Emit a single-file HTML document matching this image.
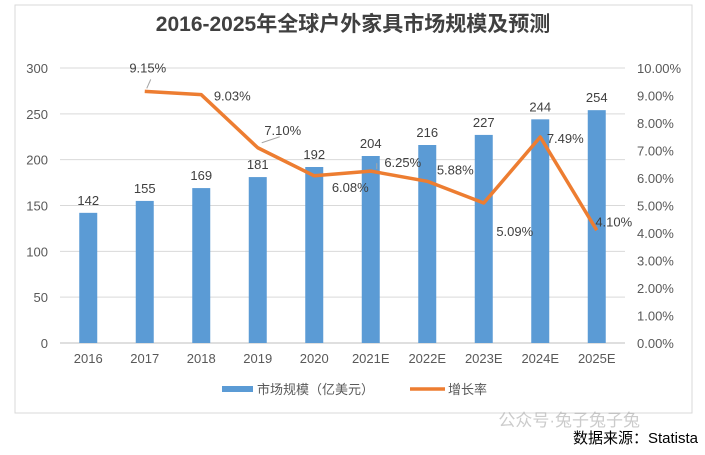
<!DOCTYPE html>
<html><head><meta charset="utf-8"><style>
body{margin:0;background:#fff;width:705px;height:450px;overflow:hidden;font-family:"Liberation Sans","Noto Sans CJK SC",sans-serif}
svg text{font-family:"Liberation Sans","Noto Sans CJK SC",sans-serif}
</style></head><body>
<svg id="c" width="705" height="450">
<rect x="15" y="5" width="677" height="408" fill="#fff" stroke="#d9d9d9"/>
<text x="353" y="31" text-anchor="middle" font-size="21" font-weight="bold" fill="#404040">2016-2025年全球户外家具市场规模及预测</text>
<g id="grid"></g><g id="bars"></g><g id="line"></g><g id="labels"></g>
<g>
<rect x="222" y="386" width="31" height="6" fill="#5b9bd5"/>
<text x="257" y="394" font-size="13" fill="#595959">市场规模（亿美元）</text>
<line x1="410" y1="389" x2="445" y2="389" stroke="#ed7d31" stroke-width="3.5"/>
<text x="448" y="394" font-size="13" fill="#595959">增长率</text>
</g>
<text x="640" y="426" text-anchor="end" font-size="17" fill="#aaa" opacity="0.6">公众号·兔子兔子兔</text>
<text x="698" y="443" text-anchor="end" font-size="15" fill="#000">数据来源：Statista</text>
</svg>
<script>
const categories=["2016","2017","2018","2019","2020","2021E","2022E","2023E","2024E","2025E"];
const marketSize=[142,155,169,181,192,204,216,227,244,254];
const growthRate=[null,9.15,9.03,7.10,6.08,6.25,5.88,5.09,7.49,4.10];
const leftTicks=[0,50,100,150,200,250,300];
const rightTicks=[0,1,2,3,4,5,6,7,8,9,10];
const NS="http://www.w3.org/2000/svg";
const x0=60,x1=625,yB=343,yT=68;
const step=(x1-x0)/categories.length;
const xc=i=>x0+step*(i+0.5);
const yL=v=>yB-(v/300)*(yB-yT);
const yR=v=>yB-(v/10)*(yB-yT);
function mk(t,a,p){const e=document.createElementNS(NS,t);for(const k in a)e.setAttribute(k,a[k]);p.appendChild(e);return e;}
const grid=document.getElementById('grid'),bars=document.getElementById('bars'),line=document.getElementById('line'),labels=document.getElementById('labels');
leftTicks.forEach(v=>{
 const l=mk('line',{x1:x0,x2:x1,y1:yL(v),y2:yL(v),stroke:v===0?'#bfbfbf':'#d9d9d9'},grid);
 
 
 const t=mk('text',{x:48,y:yL(v)+5,'text-anchor':'end','font-size':13,fill:'#595959'},grid);t.textContent=v;
 
 
});
rightTicks.forEach(v=>{
 const t=mk('text',{x:637,y:yR(v)+5,'font-size':13,fill:'#595959'},grid);t.textContent=v.toFixed(2)+'%';
 
 
});
categories.forEach((c,i)=>{
 const t=mk('text',{x:xc(i),y:363,'text-anchor':'middle','font-size':13,fill:'#595959'},grid);t.textContent=c;
 
 
 const r=mk('rect',{x:xc(i)-9,y:yL(marketSize[i]),width:18,height:yB-yL(marketSize[i]),fill:'#5b9bd5'},bars);
 
 
 const bl=mk('text',{x:xc(i),y:yL(marketSize[i])-8,'text-anchor':'middle','font-size':13,fill:'#404040'},labels);bl.textContent=marketSize[i];
 
 
});
const pts=[];growthRate.forEach((v,i)=>{if(v!==null)pts.push([xc(i),yR(v)]);});
const pl=mk('polyline',{points:pts.map(p=>p.join(',')).join(' '),fill:'none',stroke:'#ed7d31','stroke-width':3.5,'stroke-linejoin':'round'},line);


// leader lines (relative to points)
const leaders=[[1,[2,-3],[6,-12]],[3,[4,-5],[22,-11]],[5,[6,-2],[6,-8]]];
leaders.forEach(([i,a,b])=>{
 const px=xc(i),py=yR(growthRate[i]);
 const l=mk('line',{x1:px+a[0],y1:py+a[1],x2:px+b[0],y2:py+b[1],stroke:'#a6a6a6','stroke-width':1},labels);
 
 
});
const off=[null,[3,-19],[31,6],[25,-13],[36,16],[32,-4],[28,-7],[31,33],[25,6],[17,-4]];
growthRate.forEach((v,i)=>{if(v===null)return;
 const t=mk('text',{x:xc(i)+off[i][0],y:yR(v)+off[i][1],'text-anchor':'middle','font-size':13,fill:'#404040'},labels);t.textContent=v.toFixed(2)+'%';
 
 
});
</script>
</body></html>
